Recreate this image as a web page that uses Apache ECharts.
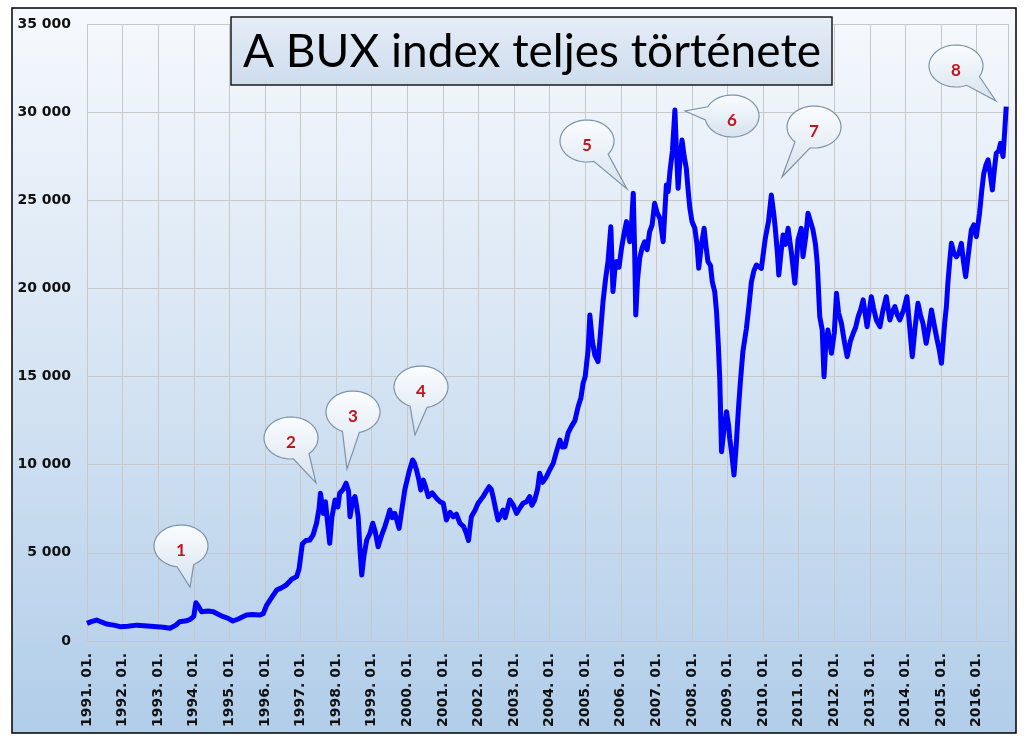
<!DOCTYPE html>
<html>
<head>
<meta charset="utf-8">
<script src="https://cdn.jsdelivr.net/npm/echarts@6/dist/echarts.min.js"></script>
<style>
html,body{margin:0;padding:0;background:#fff;}
#chart{width:1027px;height:745px;}
</style>
</head>
<body>
<div id="chart"></div>
<script>
// ---- data (decimal year, BUX index value) ----
const dates = [
1991.00,1991.12,1991.27,1991.40,1991.55,1991.75,1991.93,1992.15,1992.40,1992.70,1992.96,1993.15,1993.33,1993.50,1993.60,1993.80,1993.90,1994.00,1994.06,1994.15,
1994.22,1994.40,1994.55,1994.70,1994.83,1994.95,1995.10,1995.25,1995.48,1995.65,1995.86,1995.95,1996.05,1996.20,1996.33,1996.45,1996.60,1996.75,1996.89,1996.96,
1997.05,1997.15,1997.26,1997.35,1997.45,1997.52,1997.56,1997.64,1997.70,1997.75,1997.82,1997.88,1997.97,1998.05,1998.10,1998.20,1998.28,1998.35,1998.39,1998.47,
1998.53,1998.58,1998.62,1998.67,1998.72,1998.78,1998.86,1998.95,1999.03,1999.10,1999.18,1999.28,1999.37,1999.45,1999.51,1999.58,1999.65,1999.77,1999.85,1999.93,
2000.05,2000.15,2000.20,2000.26,2000.32,2000.38,2000.45,2000.52,2000.59,2000.70,2000.82,2000.92,2001.01,2001.10,2001.20,2001.29,2001.38,2001.48,2001.58,2001.66,
2001.72,2001.80,2001.90,2001.99,2002.13,2002.22,2002.30,2002.36,2002.41,2002.48,2002.55,2002.62,2002.69,2002.75,2002.88,2002.98,2003.07,2003.15,2003.25,2003.35,
2003.44,2003.50,2003.58,2003.66,2003.72,2003.80,2003.91,2004.00,2004.10,2004.20,2004.29,2004.36,2004.43,2004.52,2004.61,2004.71,2004.80,2004.88,2004.94,2005.00,
2005.08,2005.13,2005.20,2005.27,2005.36,2005.43,2005.50,2005.57,2005.64,2005.72,2005.78,2005.83,2005.88,2005.95,2006.02,2006.10,2006.16,2006.25,2006.30,2006.35,
2006.39,2006.42,2006.47,2006.53,2006.60,2006.67,2006.74,2006.81,2006.88,2006.95,2007.02,2007.10,2007.19,2007.28,2007.33,2007.38,2007.45,2007.52,2007.56,2007.61,
2007.67,2007.72,2007.78,2007.84,2007.90,2007.94,2008.00,2008.08,2008.14,2008.19,2008.26,2008.34,2008.40,2008.45,2008.52,2008.57,2008.64,2008.69,2008.74,2008.78,
2008.83,2008.90,2008.97,2009.03,2009.06,2009.12,2009.18,2009.24,2009.30,2009.36,2009.43,2009.53,2009.60,2009.67,2009.74,2009.81,2009.95,2010.06,2010.15,2010.23,
2010.30,2010.34,2010.40,2010.44,2010.50,2010.56,2010.63,2010.70,2010.75,2010.79,2010.89,2010.98,2011.07,2011.12,2011.20,2011.26,2011.33,2011.40,2011.47,2011.52,
2011.59,2011.66,2011.71,2011.76,2011.82,2011.92,2012.00,2012.06,2012.12,2012.20,2012.28,2012.36,2012.45,2012.53,2012.60,2012.67,2012.74,2012.81,2012.92,2013.04,
2013.10,2013.18,2013.28,2013.36,2013.46,2013.56,2013.62,2013.70,2013.77,2013.84,2013.95,2014.04,2014.10,2014.19,2014.27,2014.35,2014.42,2014.49,2014.58,2014.66,
2014.73,2014.80,2014.87,2014.95,2015.01,2015.10,2015.15,2015.19,2015.24,2015.29,2015.36,2015.43,2015.50,2015.57,2015.63,2015.69,2015.77,2015.85,2015.92,2015.99,
2016.08,2016.14,2016.20,2016.26,2016.32,2016.38,2016.44,2016.50,2016.55,2016.62,2016.67,2016.74,2016.79,2016.83
];
const values = [
1000,1100,1190,1080,965,900,813,840,900,850,813,780,720,900,1095,1150,1230,1400,2170,1900,
1660,1700,1660,1500,1380,1300,1135,1250,1475,1500,1475,1550,2040,2500,2890,3000,3175,3500,3650,4100,
5500,5700,5730,6000,6680,7500,8380,7240,7900,8000,5540,7000,8000,7600,8380,8600,8950,8500,7050,8000,
8190,7600,7050,5200,3740,4800,5730,6100,6680,6200,5350,6000,6490,7000,7430,7000,7240,6390,7500,8570,
9600,10270,10100,9700,9200,8570,9130,8700,8190,8400,8100,7900,7810,6860,7300,7050,7200,6680,6500,6110,
5700,7050,7400,7810,8190,8500,8750,8600,8190,7500,6860,7100,7430,7000,8000,7700,7240,7500,7810,7900,
8190,7700,8000,8600,9510,9000,9320,9700,10080,10800,11400,11000,11020,11800,12160,12500,13290,13800,14620,15000,
16500,18490,17000,16220,15850,17500,19250,20500,21520,23500,19820,21000,21520,21200,22280,23200,23790,22650,23600,25400,
22000,18490,20500,21710,22300,22650,22200,23220,23600,24830,24300,23980,22650,25870,25500,26620,27800,30120,28000,25680,
27500,28420,27500,26820,25400,24550,23800,23410,22500,21140,22400,23410,22300,21520,21300,20380,19800,18680,16800,14900,
10740,12000,13010,12200,11500,10600,9420,11000,13010,14700,16410,17740,19000,20380,21000,21330,21140,22840,23800,25300,
24200,23410,22000,20760,22000,23030,22500,23410,23320,22090,20290,22750,23410,21800,23000,24260,23800,23320,22500,21430,
18400,17640,14990,16800,17640,16320,17500,19720,18600,18020,17000,16130,17000,17460,17800,18400,18800,19350,17830,19530,
18900,18210,17830,18700,19530,18210,18600,18970,18500,18210,18800,19530,18200,16130,17800,19160,18500,18020,16890,17800,
18780,18000,17260,16500,15750,18020,19000,20290,21500,22560,22000,21800,22000,22560,21500,20670,22000,23320,23600,22940,
24260,25500,26530,27000,27290,26500,25590,26800,27670,27800,28230,27480,29000,30310
];
const yTicks = [0, 5000, 10000, 15000, 20000, 25000, 30000, 35000];
const titleText = 'A BUX index teljes története';
const calloutLabels = ['1','2','3','4','5','6','7','8'];

// ---- annotation layout (pixels) ----
const calloutPos = [
  {cx:181, cy:546, tip:[190,587]},
  {cx:291, cy:438, tip:[316,483]},
  {cx:353, cy:412, tip:[347,469]},
  {cx:421, cy:387, tip:[415,435]},
  {cx:587, cy:141, tip:[627,189]},
  {cx:732, cy:116, tip:[685,111]},
  {cx:814, cy:127, tip:[782,177]},
  {cx:956, cy:66,  tip:[996,101]}
];
const RX = 27, RY = 21;

function bubblePoints(p){
  const th = Math.atan2((p.tip[1]-p.cy)/RY, (p.tip[0]-p.cx)/RX);
  const d = 0.32;
  const pts = [];
  const n = 60;
  for (let i=0;i<=n;i++){
    const a = th + d + (2*Math.PI - 2*d)*i/n;
    pts.push([p.cx + RX*Math.cos(a), p.cy + RY*Math.sin(a)]);
  }
  pts.push(p.tip);
  return pts;
}

const graphics = [];
graphics.push({
  type:'rect', z:-100, silent:true,
  shape:{x:12, y:8, width:1004, height:725},
  style:{
    fill:{type:'linear', x:0, y:0, x2:0, y2:1, colorStops:[
      {offset:0, color:'#f6f9fd'},{offset:0.45, color:'#d9e6f4'},{offset:1, color:'#b1cde9'}]},
    stroke:'#000', lineWidth:1.5
  }
});
graphics.push({
  type:'rect', z:100, silent:true,
  shape:{x:231, y:17, width:601, height:68},
  style:{
    fill:{type:'linear', x:0, y:0, x2:0, y2:1, colorStops:[
      {offset:0, color:'#e6edf6'},{offset:1, color:'#cddcee'}]},
    stroke:'#1a1a1a', lineWidth:1.5
  }
});
graphics.push({
  type:'text', z:101, silent:true,
  x:532, y:52,
  style:{text:titleText, fill:'#000', font:'46px Lato', align:'center', verticalAlign:'middle'}
});
calloutPos.forEach((p, i) => {
  graphics.push({
    type:'polygon', z:100, silent:true,
    shape:{points:bubblePoints(p)},
    style:{
      fill:{type:'linear', x:0, y:0, x2:0, y2:1, colorStops:[
        {offset:0, color:'#fbfdff'},{offset:1, color:'#d6e2ee'}]},
      stroke:'#7d93a8', lineWidth:1.2
    }
  });
  graphics.push({
    type:'text', z:101, silent:true,
    x:p.cx, y:p.cy+5,
    style:{text:calloutLabels[i], fill:'#c0141c', font:'bold 17px Lato', align:'center', verticalAlign:'middle'}
  });
});

const chart = echarts.init(document.getElementById('chart'), null, {renderer:'canvas'});
chart.setOption({
  animation:false,
  backgroundColor:'#fff',
  grid:{left:87, right:19, top:24, bottom:104, containLabel:false},
  xAxis:{
    type:'value', min:1991, max:2016.88, interval:1,
    axisLine:{show:true, lineStyle:{color:'#c4c4c4', width:1}},
    axisTick:{show:true, length:5, lineStyle:{color:'#cfcfcf'}},
    splitLine:{show:true, lineStyle:{color:'#c8c8c8', width:1}},
    axisLabel:{
      rotate:90, margin:12, showMaxLabel:false,
      color:'#111', fontFamily:'DejaVu Sans', fontWeight:'bold', fontSize:14,
      formatter: v => Number.isInteger(v) ? v + '. 01.' : ''
    }
  },
  yAxis:{
    type:'value', min:yTicks[0], max:yTicks[yTicks.length-1], interval:5000,
    axisLine:{show:false}, axisTick:{show:false},
    splitLine:{show:true, lineStyle:{color:'#c8c8c8', width:1}},
    axisLabel:{
      margin:16, color:'#111', fontFamily:'DejaVu Sans', fontWeight:'bold', fontSize:14,
      formatter: v => String(v).replace(/\B(?=(\d{3})+(?!\d))/g, ' ')
    }
  },
  series:[{
    type:'line', z:5,
    data: dates.map((d,i) => [d, values[i]]),
    showSymbol:false, symbol:'none',
    lineStyle:{color:'#0000ff', width:5, join:'round'}
  }],
  graphic: graphics
});
</script>
</body>
</html>
